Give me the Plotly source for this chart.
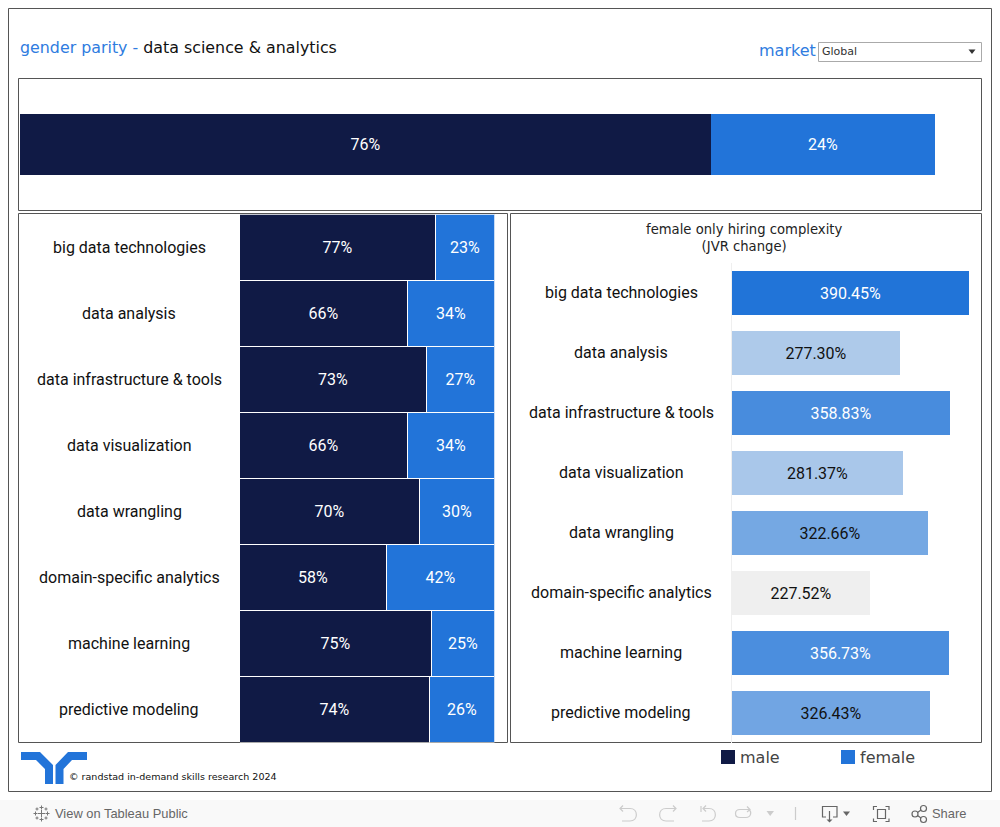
import re
import plotly.graph_objects as go

# ---- data ----
categories = ["big data technologies", "data analysis", "data infrastructure & tools",
              "data visualization", "data wrangling", "domain-specific analytics",
              "machine learning", "predictive modeling"]
overall_male = [75.5]
overall_female = [24.5]
overall_male_labels = ["76%"]
overall_female_labels = ["24%"]
male_share = [77.0, 65.9, 73.4, 65.9, 70.7, 57.7, 75.4, 74.6]
female_share = [23.0, 34.1, 26.6, 34.1, 29.3, 42.3, 24.6, 25.4]
male_labels = ["77%", "66%", "73%", "66%", "70%", "58%", "75%", "74%"]
female_labels = ["23%", "34%", "27%", "34%", "30%", "42%", "25%", "26%"]
jvr_change = [390.45, 277.30, 358.83, 281.37, 322.66, 227.52, 356.73, 326.43]

# ---- style ----
W, H = 1000, 827
MALE = "#101a45"
FEMALE = "#2274d9"
BLUE_TXT = "#2f7ce0"
BORDER = "#555555"
ROBOTO = "Roboto"
DEJAVU = "DejaVu Sans"
BAR_FONT = 16


def px(x):
    return x / W


def py(y):
    return 1 - y / H


def path(d):
    return re.sub(r"(-?[\d.]+),(-?[\d.]+)",
                  lambda m: f"{px(float(m[1])):.5f},{py(float(m[2])):.5f}", d)


def dom_x(a, b):
    return [px(a), px(b)]


def dom_y(top, bottom):
    return [py(bottom), py(top)]


fig = go.Figure()


def stacked(y, x, text, color, xa, ya):
    fig.add_trace(go.Bar(
        y=y, x=x, orientation="h", text=text, textposition="inside",
        insidetextanchor="middle", textangle=0, constraintext="none",
        textfont=dict(family=ROBOTO, size=BAR_FONT, color="white"),
        marker=dict(color=color, line=dict(color="white", width=1)),
        xaxis=xa, yaxis=ya, showlegend=False, hoverinfo="skip"))


# overview bar
fig.add_trace(go.Bar(y=["all"], x=overall_male, orientation="h", text=overall_male_labels,
                     textposition="inside", insidetextanchor="middle", textangle=0,
                     textfont=dict(family=ROBOTO, size=BAR_FONT, color="white"),
                     marker=dict(color=MALE, line=dict(width=0)), xaxis="x", yaxis="y",
                     showlegend=False, hoverinfo="skip"))
fig.add_trace(go.Bar(y=["all"], x=overall_female, orientation="h", text=overall_female_labels,
                     textposition="inside", insidetextanchor="middle", textangle=0,
                     textfont=dict(family=ROBOTO, size=BAR_FONT, color="white"),
                     marker=dict(color=FEMALE, line=dict(width=0)), xaxis="x", yaxis="y",
                     showlegend=False, hoverinfo="skip"))

# share by skill
stacked(categories, male_share, male_labels, MALE, "x2", "y2")
stacked(categories, female_share, female_labels, FEMALE, "x2", "y2")

# hiring complexity
fig.add_trace(go.Bar(
    y=categories, x=jvr_change, orientation="h",
    text=[f"{v:.2f}%" for v in jvr_change], textposition="inside",
    insidetextanchor="middle", textangle=0, constraintext="none",
    textfont=dict(family=ROBOTO, size=BAR_FONT,
                  color=["white" if v > 350 else "#111111" for v in jvr_change]),
    marker=dict(color=jvr_change, cmin=min(jvr_change), cmax=max(jvr_change),
                colorscale=[[0, "#efefef"], [0.33, "#a9c7ea"], [1, "#2174d8"]], showscale=False,
                line=dict(width=0)),
    width=0.733, xaxis="x3", yaxis="y3", showlegend=False, hoverinfo="skip"))

hidden = dict(visible=False, fixedrange=True)
fig.update_layout(
    width=W, height=H, autosize=False, margin=dict(l=0, r=0, t=0, b=0, pad=0),
    paper_bgcolor="white", plot_bgcolor="rgba(0,0,0,0)", barmode="stack", bargap=0,
    xaxis=dict(hidden, domain=dom_x(20, 935), range=[0, 100], anchor="y"),
    yaxis=dict(hidden, domain=dom_y(114, 175), anchor="x"),
    xaxis2=dict(hidden, domain=dom_x(240, 494.5), range=[0, 100], anchor="y2"),
    yaxis2=dict(hidden, domain=dom_y(214.5, 742.5), anchor="x2", autorange="reversed",
                categoryorder="array", categoryarray=categories),
    xaxis3=dict(hidden, domain=dom_x(732, 969), range=[0, 390.45], anchor="y3"),
    yaxis3=dict(domain=dom_y(263, 743), anchor="x3", autorange="reversed", fixedrange=True,
                categoryorder="array", categoryarray=categories, showline=True,
                linecolor="#efefef", linewidth=1, showticklabels=False, ticks="",
                showgrid=False, zeroline=False),
)

shapes = []


def rect(x0, y0, x1, y1, line=None, fill=None, lw=1):
    shapes.append(dict(type="rect", xref="paper", yref="paper",
                       x0=px(x0), x1=px(x1), y0=py(y0), y1=py(y1),
                       line=dict(color=line or "rgba(0,0,0,0)", width=lw if line else 0),
                       fillcolor=fill or "rgba(0,0,0,0)", layer="below"))


def draw(d, color=None, fill=None, lw=1.2):
    shapes.append(dict(type="path", xref="paper", yref="paper", path=path(d),
                       line=dict(color=color or "rgba(0,0,0,0)", width=lw if color else 0),
                       fillcolor=fill or "rgba(0,0,0,0)", layer="above"))


def circle(cx, cy, r, color, lw=1.2):
    shapes.append(dict(type="circle", xref="paper", yref="paper",
                       x0=px(cx - r), x1=px(cx + r), y0=py(cy - r), y1=py(cy + r),
                       line=dict(color=color, width=lw), layer="above"))


# frames
rect(8.5, 8.5, 991.5, 791.5, BORDER)
rect(18.5, 78.5, 981.5, 210.5, BORDER)
rect(18.5, 213.5, 507.5, 742.5, BORDER)
rect(510.5, 213.5, 981.5, 742.5, BORDER)
# toolbar band
rect(0, 800, 1000, 827, fill="#f9f9f9")
# dropdown
rect(818.5, 42.5, 981.5, 61.5, "#aaaaaa", "white")
draw("M968.5,49.5 L975.5,49.5 L972,54 Z", fill="#333333")
# legend swatches
rect(721, 750, 735, 764, fill=MALE)
rect(841, 750, 855, 764, fill=FEMALE)
# logo
draw("M21,752 L40,752 L53,765 L53,784 L45,784 L45,769 L36,760 L21,760 Z", fill=FEMALE)
draw("M87,752 L68,752 L55.5,765 L55.5,784 L63.5,784 L63.5,769 L72,760 L87,760 Z", fill=FEMALE)

# toolbar icons
GL = "#cccccc"
GD = "#666666"
draw("M620,808.5 L630,808.5 C638.5,808.5 638.5,821 630,821 L622,821", GL)
draw("M623,805.5 L620,808.5 L623,811.5", GL)
draw("M676,808.5 L666,808.5 C657.5,808.5 657.5,821 666,821 L674,821", GL)
draw("M673,805.5 L676,808.5 L673,811.5", GL)
draw("M701,806 L701,812", GL)
draw("M703,808.5 L709,808.5 C717.5,808.5 717.5,821 709,821 L702,821", GL)
draw("M706,805.5 L703,808.5 L706,811.5", GL)
draw("M749,809.5 L740,809.5 C734,809.5 734,817.5 740,817.5 L746,817.5 C751,817.5 752,812 749,809.5", GL)
draw("M747,806.5 L750,809.5 L747,812", GL)
draw("M766.5,811 L774,811 L770.2,816 Z", fill="#cccccc")
draw("M795.5,807 L795.5,820", GL)
draw("M826,817 L822.5,817 L822.5,806.5 L837,806.5 L837,817 L833,817", GD)
draw("M829.5,811 L829.5,821", GD)
draw("M826.5,819.5 L832.5,819.5 L829.5,822.5 Z", fill=GD)
draw("M843,811.5 L850,811.5 L846.5,816 Z", fill=GD)
draw("M873.5,810 L873.5,806.5 L877,806.5 M885.5,806.5 L889,806.5 L889,810 "
     "M889,818.5 L889,821.5 L885.5,821.5 M877,821.5 L873.5,821.5 L873.5,818.5", GD)
draw("M877.5,809.5 L885.5,809.5 L885.5,818.5 L877.5,818.5 Z", GD)
circle(915, 814, 3, GD)
circle(923.5, 808.5, 3, GD)
circle(923.5, 819.5, 3, GD)
draw("M917.5,812.5 L921,810 M917.5,815.5 L921,818", GD)
# tableau mark
GM = "#777777"
for cx, cy, r in [(41.5, 813.5, 3.5), (35.5, 813.5, 2), (47.5, 813.5, 2), (41.5, 807.5, 2),
                  (41.5, 819.5, 2), (37, 809, 1.5), (46, 809, 1.5), (37, 818, 1.5), (46, 818, 1.5)]:
    draw(f"M{cx - r},{cy} L{cx + r},{cy} M{cx},{cy - r} L{cx},{cy + r}", GM, lw=1)

fig.update_layout(shapes=shapes)

ann = []


def label(x, y, text, size, color="#111111", family=DEJAVU, anchor="left"):
    ann.append(dict(x=px(x), y=py(y), xref="paper", yref="paper", text=text, showarrow=False,
                    xanchor=anchor, yanchor="middle", align="center", borderpad=0, borderwidth=0,
                    font=dict(family=family, size=size, color=color)))


label(20, 47.5, f'<span style="color:{BLUE_TXT}">gender parity - </span>data science &amp; analytics', 15.85)
label(759, 50.5, "market", 16, BLUE_TXT)
label(822, 51.5, "Global", 11, "#333333")
label(744, 237.5, "female only hiring complexity<br>(JVR change)", 13.2, "#222222", anchor="center")
label(69, 776.5, "© randstad in-demand skills research 2024", 9.55, "#111111")
label(740, 757.5, "male", 16, "#444444")
label(860, 757.5, "female", 16, "#444444")
label(55, 813.5, "View on Tableau Public", 12.9, "#666666", "Liberation Sans")
label(932, 813.5, "Share", 12.9, "#666666", "Liberation Sans")

for c in categories:
    ann.append(dict(x=px(129), y=c, xref="paper", yref="y2", text=c.replace("&", "&amp;"),
                    showarrow=False, xanchor="center", yanchor="middle",
                    font=dict(family=ROBOTO, size=BAR_FONT, color="#111111")))
    ann.append(dict(x=px(621), y=c, xref="paper", yref="y3", text=c.replace("&", "&amp;"),
                    showarrow=False, xanchor="center", yanchor="middle", yshift=0.4,
                    font=dict(family=ROBOTO, size=BAR_FONT, color="#111111")))
fig.update_layout(annotations=ann)

fig.write_html("out.html", config={"displayModeBar": False},
               post_script="document.body.style.margin='0';document.documentElement.style.overflow='hidden';")
